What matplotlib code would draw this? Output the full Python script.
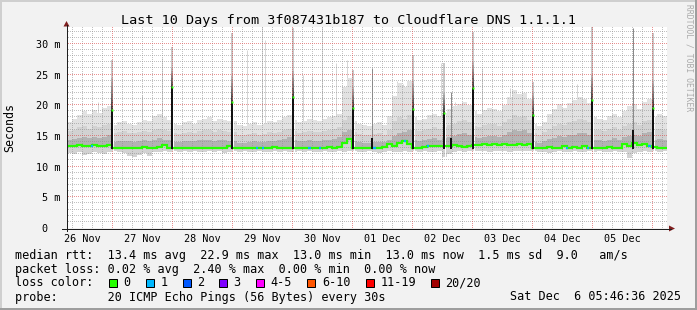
import numpy as np
import matplotlib
matplotlib.use('Agg')
import matplotlib.pyplot as plt
from matplotlib.patches import Rectangle, Polygon
from matplotlib.lines import Line2D
from matplotlib.collections import LineCollection

W, H, DPI = 697, 310, 100
MONO = 'DejaVu Sans Mono'
PT = 72.0 / DPI  # points per pixel

# ---------------- texts ----------------
title = 'Last 10 Days from 3f087431b187 to Cloudflare DNS 1.1.1.1'
y_label = 'Seconds'
watermark = 'RRDTOOL / TOBI OETIKER'
day_labels = ['26 Nov', '27 Nov', '28 Nov', '29 Nov', '30 Nov',
              '01 Dec', '02 Dec', '03 Dec', '04 Dec', '05 Dec']
day_label_hours = [12, 36, 60, 84, 108, 132, 156, 180, 204, 228]
y_tick_values = [0, 5, 10, 15, 20, 25, 30]
y_tick_labels = ['0  ', '5 m', '10 m', '15 m', '20 m', '25 m', '30 m']
legend_rows = [
    'median rtt:  13.4 ms avg  22.9 ms max  13.0 ms min  13.0 ms now  1.5 ms sd  9.0   am/s',
    'packet loss: 0.02 % avg  2.40 % max  0.00 % min  0.00 % now',
    'loss color:',
    'probe:       20 ICMP Echo Pings (56 Bytes) every 30s',
]
timestamp = 'Sat Dec  6 05:46:36 2025'
loss_labels = ['0', '1', '2', '3', '4-5', '6-10', '11-19', '20/20']
loss_colors = ['#26ff00', '#00b8ff', '#0059ff', '#7e00ff', '#ff00ff',
               '#ff5500', '#ff0000', '#a10000']

# ---------------- data (ms), time in hours since 26 Nov 00:00 ----------------
x_start, x_end = 6, 246
bin_hours = 2

rtt_max = [
    17.2, 17.8, 18.4, 19.0, 18.6, 19.2, 18.8, 19.6, 19.9,
    16.8, 17.2, 17.5, 17.0, 16.8, 17.3, 17.6, 17.4, 18.2, 18.6, 18.0, 17.6,
    17.0, 16.8, 17.2, 17.4, 17.0, 17.6, 17.8, 18.0, 17.4, 17.8, 17.6, 17.4,
    17.4, 16.8, 16.6, 17.0, 17.2, 16.8, 17.0, 17.4, 17.2, 17.6, 18.0, 18.4,
    17.6, 17.2, 17.4, 17.8, 17.6, 17.4, 17.8, 18.0, 18.2, 18.6, 23.0, 24.5,
    17.4, 17.0, 16.8, 16.6, 17.0, 17.2, 16.8, 18.2, 21.5, 23.6, 23.0, 24.0,
    18.0, 17.6, 17.8, 18.4, 18.6, 18.2, 18.8, 19.4, 19.8, 20.2, 20.6, 20.0,
    19.0, 18.6, 19.2, 19.6, 19.4, 19.0, 20.0, 21.4, 22.4, 21.8, 22.0, 21.0,
    17.0, 16.6, 17.2, 18.6, 19.4, 20.2, 19.6, 20.4, 20.8, 21.4, 21.0, 20.4,
    18.0, 17.8, 17.6, 18.2, 18.6, 18.0, 19.0, 19.8, 20.2, 19.4, 20.6, 21.0,
    18.0, 18.6, 18.2,
]
rtt_p80 = [
    15.8, 16.0, 16.4, 16.6, 16.2, 16.6, 16.4, 16.8, 17.0,
    15.4, 15.6, 15.8, 15.5, 15.4, 15.6, 15.8, 15.7, 16.0, 16.2, 16.0, 15.8,
    15.4, 15.3, 15.5, 15.6, 15.4, 15.8, 15.9, 16.0, 15.7, 15.9, 15.8, 15.6,
    15.6, 15.2, 15.1, 15.3, 15.4, 15.2, 15.3, 15.6, 15.5, 15.7, 16.0, 16.2,
    15.8, 15.5, 15.6, 15.8, 15.7, 15.6, 15.8, 16.0, 16.1, 16.4, 17.6, 18.2,
    15.6, 15.3, 15.2, 15.1, 15.3, 15.4, 15.2, 16.0, 17.4, 18.0, 17.8, 18.4,
    16.0, 15.8, 15.9, 16.2, 16.4, 16.1, 16.5, 16.8, 17.0, 17.4, 17.6, 17.2,
    16.6, 16.4, 16.8, 17.0, 16.9, 16.6, 17.2, 17.8, 18.4, 18.0, 18.2, 17.6,
    15.4, 15.2, 15.6, 16.2, 16.6, 17.0, 16.8, 17.2, 17.4, 17.8, 17.6, 17.2,
    16.0, 15.9, 15.8, 16.1, 16.4, 16.0, 16.6, 17.0, 17.2, 16.8, 17.4, 17.6,
    16.0, 16.2, 16.0,
]
rtt_p60 = [
    14.4, 14.5, 14.6, 14.8, 14.6, 14.8, 14.7, 14.9, 15.1,
    14.0, 14.1, 14.2, 14.1, 14.0, 14.2, 14.3, 14.2, 14.4, 14.6, 14.4, 14.3,
    14.0, 14.0, 14.1, 14.2, 14.1, 14.3, 14.4, 14.4, 14.2, 14.4, 14.3, 14.2,
    14.1, 13.9, 13.9, 14.0, 14.1, 14.0, 14.0, 14.2, 14.1, 14.3, 14.5, 14.8,
    14.3, 14.1, 14.2, 14.3, 14.2, 14.2, 14.3, 14.4, 14.5, 14.8, 15.6, 16.0,
    14.1, 14.0, 13.9, 13.9, 14.0, 14.0, 14.0, 14.4, 15.0, 15.4, 15.6, 16.0,
    14.4, 14.2, 14.3, 14.5, 14.6, 14.4, 14.7, 14.9, 15.0, 15.3, 15.4, 15.2,
    14.8, 14.7, 14.9, 15.0, 15.0, 14.8, 15.2, 15.6, 16.0, 15.8, 15.9, 15.5,
    14.0, 13.9, 14.1, 14.5, 14.7, 15.0, 14.9, 15.1, 15.2, 15.5, 15.4, 15.1,
    14.4, 14.3, 14.2, 14.4, 14.6, 14.4, 14.8, 15.0, 15.2, 15.0, 15.4, 15.6,
    14.4, 14.5, 14.3,
]
rtt_median = [
    13.4, 13.4, 13.5, 13.4, 13.4, 13.5, 13.4, 13.4, 13.5,
    13.1, 13.1, 13.0, 13.1, 13.1, 13.1, 13.2, 13.1, 13.1, 13.2, 13.5, 13.1,
    13.1, 13.1, 13.1, 13.0, 13.1, 13.1, 13.1, 13.1, 13.1, 13.1, 13.1, 13.4,
    13.1, 13.1, 13.1, 13.0, 13.1, 13.1, 13.1, 13.1, 13.2, 13.1, 13.1, 13.1,
    13.1, 13.1, 13.0, 13.1, 13.1, 13.1, 13.1, 13.2, 13.1, 13.2, 13.9, 14.5,
    13.1, 13.1, 13.0, 13.0, 13.1, 13.1, 13.2, 13.6, 13.3, 13.8, 14.2, 13.6,
    13.1, 13.1, 13.2, 13.3, 13.4, 13.3, 13.4, 13.4, 13.5, 13.3, 13.2, 13.4,
    13.5, 13.5, 13.6, 13.5, 13.6, 13.5, 13.6, 13.5, 13.5, 13.6, 13.5, 13.7,
    13.1, 13.1, 13.1, 13.2, 13.1, 13.1, 13.4, 13.1, 13.2, 13.1, 13.3, 13.1,
    13.1, 13.1, 13.1, 13.2, 13.1, 13.1, 13.6, 13.4, 13.8, 13.5, 13.6, 13.4,
    13.2, 13.1, 13.1,
]
rtt_min = [
    12.2, 12.0, 12.3, 11.9, 12.1, 12.4, 12.2, 12.0, 12.3,
    12.5, 12.4, 12.2, 11.8, 11.5, 11.9, 12.2, 11.7, 12.3, 12.4, 12.5, 12.4,
    12.5, 12.4, 12.5, 12.3, 12.5, 12.4, 12.3, 12.5, 12.4, 12.5, 12.2, 12.4,
    12.5, 12.4, 12.5, 12.3, 12.4, 12.5, 12.4, 12.3, 12.5, 12.4, 12.5, 12.4,
    12.4, 12.5, 12.3, 12.5, 12.4, 12.4, 12.5, 12.3, 12.4, 12.5, 12.4, 12.5,
    12.5, 12.3, 12.4, 12.5, 12.4, 12.2, 12.4, 12.5, 12.3, 12.4, 12.5, 12.4,
    12.5, 12.4, 12.5, 12.3, 12.4, 12.5, 11.6, 12.0, 12.4, 12.5, 12.4, 12.5,
    12.6, 12.5, 12.6, 12.4, 12.5, 12.6, 12.5, 12.4, 12.6, 12.5, 12.6, 12.5,
    12.5, 12.4, 12.3, 12.2, 12.4, 12.5, 12.3, 12.4, 12.5, 12.3, 12.4, 12.5,
    12.4, 12.5, 12.3, 12.4, 12.5, 12.4, 12.4, 11.4, 12.2, 12.4, 12.5, 12.4,
    12.5, 12.4, 12.5,
]

# daily latency spikes (hour, median at spike, dense smoke top, max ping)
spike_hours = [24.0, 48.0, 72.0, 96.2, 120.2, 144.4, 156.8, 168.4, 192.2, 216.0, 240.4]
spike_median = [19.2, 22.9, 20.6, 21.3, 19.6, 19.4, 18.8, 22.8, 18.4, 20.9, 19.6]
spike_dense = [24.5, 26.0, 24.7, 25.5, 23.0, 24.0, 22.0, 27.0, 22.0, 25.0, 24.0]
spike_max = [27.4, 29.4, 31.8, 32.6, 25.8, 28.2, 26.9, 32.0, 23.7, 32.9, 31.8]

# small spikes (hour, dense top, max ping)
small_spike_hours = [128.0, 159.6, 232.4]
small_spike_dense = [14.7, 14.7, 16.0]
small_spike_max = [26.1, 22.2, 32.6]

# single slow pings reaching above the smoke
outlier_hours = [18.4, 36.0, 44.0, 78.0, 84.0, 85.2, 100.4, 104.0, 108.0, 113.6,
                 118.0, 138.0, 140.4, 155.6, 161.2, 172.0, 183.2, 210.0]
outlier_values = [20.5, 21.6, 27.7, 29.0, 32.9, 30.7, 25.0, 24.7, 32.9, 26.9,
                  27.4, 24.0, 23.5, 26.9, 20.5, 26.0, 22.8, 23.4]

# short periods with 1 lost ping
loss1_hours = [15.9, 82.0, 84.4, 103.0, 107.2, 129.0, 141.2, 150.4, 206.0, 214.4, 239.0]

# ---------------- helpers ----------------
def fx(px):
    return px / W


def fy(py):
    return 1.0 - py / H


AX_W, AX_H = 600, 201
y_top = AX_H / 6.14

fig = plt.figure(figsize=(W / DPI, H / DPI), dpi=DPI, facecolor='#f2f2f2')
ax = fig.add_axes([fx(67), fy(228), AX_W / W, AX_H / H])
ax.set_facecolor('white')
for s in ax.spines.values():
    s.set_visible(False)
ax.set_xlim(x_start, x_end)
ax.set_ylim(0, y_top)

n = len(rtt_median)
edges = x_start + bin_hours * np.arange(n + 1)


def ext(a):
    a = np.asarray(a, float)
    return np.append(a, a[-1])


# smoke
ax.vlines(outlier_hours, 13, outlier_values, color='#d6d6d6', lw=1 * PT, zorder=0.9)
ax.fill_between(edges, ext(rtt_min), ext(rtt_max), step='post', color='#e2e2e2', lw=0, zorder=1.0)
ax.fill_between(edges, ext(rtt_min), ext(rtt_p80), step='post', color='#d2d2d2', lw=0, zorder=1.1)
ax.fill_between(edges, ext(rtt_median), ext(rtt_p60), step='post', color='#b3b3b3', lw=0, zorder=1.2)

# spikes
for h, med, dense, top in zip(spike_hours, spike_median, spike_dense, spike_max):
    ax.vlines(h, 13, top, color='#c8c8c8', lw=2 * PT, zorder=1.3)
    k = 8
    ys = np.linspace(med, dense, k + 1)
    segs = [[(h, ys[i]), (h, ys[i + 1])] for i in range(k)]
    cols = plt.cm.gray(np.linspace(0.25, 0.7, k))
    ax.add_collection(LineCollection(segs, colors=cols, lw=2 * PT, zorder=1.4))
    ax.add_patch(Rectangle((h + 0.45, 11.0), 0.5, top - 11.0, color='white', lw=0, zorder=1.45))
    ax.vlines(h, 12.9, med, color='#111111', lw=2 * PT, zorder=3.5)
    ax.plot([h], [med], 's', ms=2 * PT, color='#26ff00', mec='none', zorder=4)

for h, dense, top in zip(small_spike_hours, small_spike_dense, small_spike_max):
    ax.vlines(h, 13, top, color='#8a8a8a', lw=1 * PT, zorder=1.3)
    ax.vlines(h, 12.9, dense, color='#111111', lw=2 * PT, zorder=3.5)

# grid: dotted (1 px on / 1 px off) lines drawn pixel by pixel, over the smoke
minor_c = (0.56, 0.56, 0.56, 0.55)
major_c = (0.87, 0.31, 0.31, 0.62)
px_per_ms = AX_H / y_top
px_per_hour = AX_W / (x_end - x_start)
col_centers = x_start + (np.arange(0, AX_W, 2) + 0.5) / px_per_hour
row_centers = y_top - (np.arange(0, AX_H, 2) + 0.5) / px_per_ms
for v in range(1, int(y_top) + 1):
    c = major_c if v % 5 == 0 else minor_c
    ax.plot(col_centers, np.full(col_centers.shape, float(v)), ',', color=c,
            zorder=2.1 if v % 5 == 0 else 2.0)
for h in range(8, x_end + 1, 4):
    c = major_c if h % 24 == 0 else minor_c
    ax.plot(np.full(row_centers.shape, float(h)), row_centers, ',', color=c,
            zorder=2.1 if h % 24 == 0 else 2.0)

# median line, colored by loss
xs = np.repeat(edges, 2)[1:-1]
ys = np.repeat(np.asarray(rtt_median, float), 2)
ax.plot(xs, ys, color='#26ff00', lw=2.2 * PT, solid_joinstyle='miter', zorder=3)
for h in loss1_hours:
    i = int((h - x_start) // bin_hours)
    ax.hlines(rtt_median[i], h - 0.5, h + 0.5, color='#00b8ff', lw=2.2 * PT, zorder=3.2)

# ticks
ax.set_xticks(day_label_hours)
ax.set_xticklabels(day_labels, fontsize=7.3, family=MONO)
ax.set_yticks(y_tick_values)
ax.set_yticklabels(y_tick_labels, fontsize=7.3, family=MONO)
ax.tick_params(axis='both', length=0)
ax.tick_params(axis='y', pad=5)
ax.tick_params(axis='x', pad=4)

# axes lines & arrows
axis_c = '#1f1f1f'
arrow_c = '#801f1f'
fig.add_artist(Line2D([fx(62), fx(671)], [fy(228.5), fy(228.5)], color=axis_c, lw=PT))
fig.add_artist(Line2D([fx(66.5), fx(66.5)], [fy(231), fy(25)], color=axis_c, lw=PT))
fig.add_artist(Polygon([(fx(63.5), fy(26.5)), (fx(66.5), fy(21)), (fx(69.5), fy(26.5))],
                       closed=True, color=arrow_c, lw=0))
fig.add_artist(Polygon([(fx(669), fy(225.5)), (fx(675), fy(228.5)), (fx(669), fy(231.5))],
                       closed=True, color=arrow_c, lw=0))

# frame (3D shade)
fig.add_artist(Rectangle((0, fy(2)), 1, 2 / H, color='#cfcfcf', lw=0))
fig.add_artist(Rectangle((0, 0), 2 / W, 1, color='#cfcfcf', lw=0))
fig.add_artist(Rectangle((0, 0), 1, 2 / H, color='#9e9e9e', lw=0))
fig.add_artist(Rectangle((1 - 2 / W, 0), 2 / W, 1, color='#9e9e9e', lw=0))

# texts
fig.text(fx(348.5), fy(24), title, ha='center', va='baseline', fontsize=9.7, family=MONO)
fig.text(fx(10), fy(127), y_label, ha='center', va='center', rotation=90, fontsize=8.4, family=MONO)
fig.text(fx(688.5), fy(58), watermark, ha='center', va='center', rotation=270,
         fontsize=5.8, family=MONO, color='#ababab')

baselines = [258.5, 272.5, 286.5, 300.5]
for txt, b in zip(legend_rows, baselines):
    fig.text(fx(15), fy(b), txt, ha='left', va='baseline', fontsize=8.5, family=MONO)
fig.text(fx(681), fy(baselines[3]), timestamp, ha='right', va='baseline', fontsize=8.5, family=MONO)

box_x = [108.5, 145.7, 182.5, 219.0, 256.0, 307.3, 366.0, 430.7]
for bx, lab, col in zip(box_x, loss_labels, loss_colors):
    fig.add_artist(Rectangle((fx(bx), fy(286.5)), 8 / W, 8 / H, facecolor=col,
                             edgecolor='black', lw=PT))
    fig.text(fx(bx + 14.5), fy(baselines[2]), lab, ha='left', va='baseline', fontsize=8.5, family=MONO)

fig.savefig('out.png', dpi=DPI, facecolor=fig.get_facecolor())
